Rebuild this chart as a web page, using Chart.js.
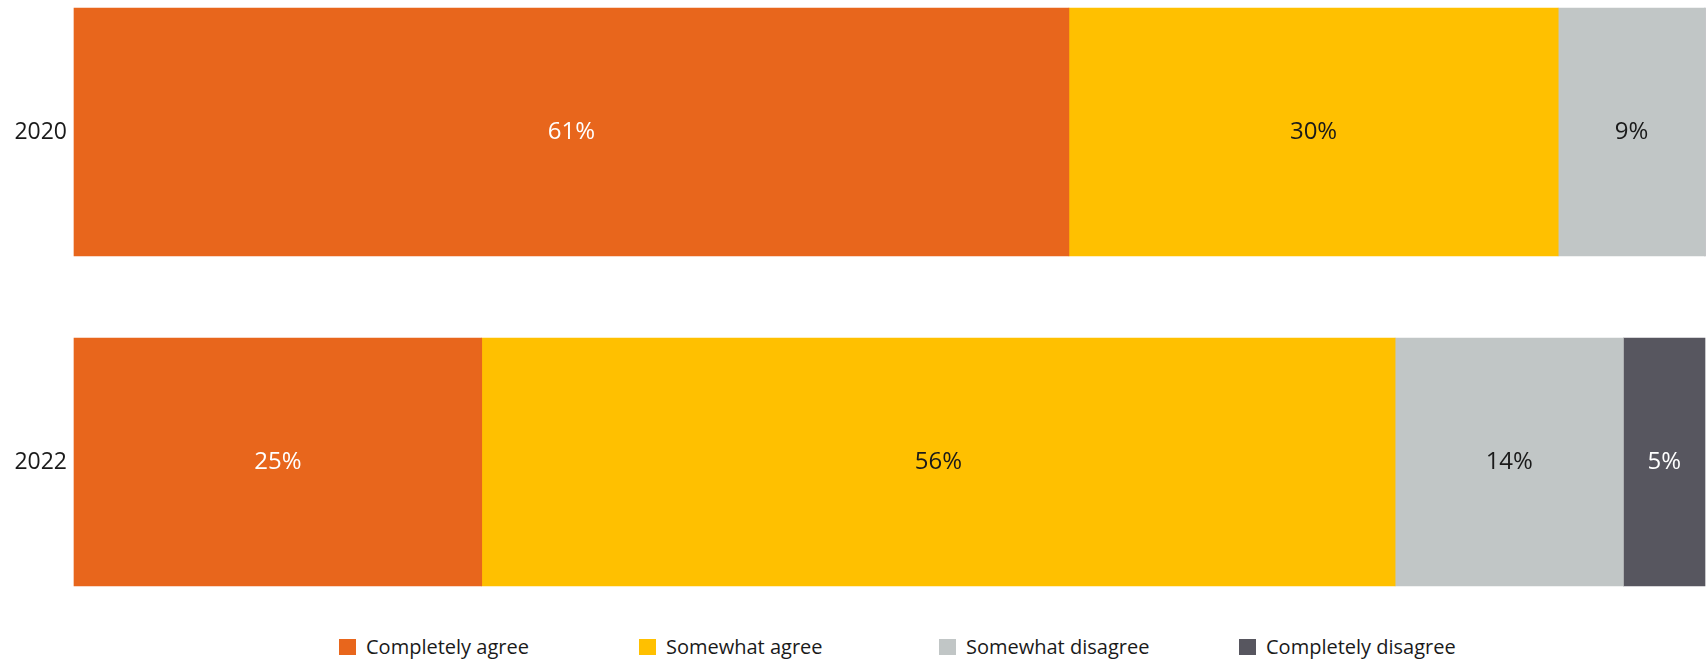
<!DOCTYPE html>
<html>
<head>
<meta charset="utf-8">
<script src="https://cdn.jsdelivr.net/npm/chart.js@4.4.1/dist/chart.umd.min.js"></script>
<style>
    body { margin: 0; background: #fff; font-family: 'Open Sans', sans-serif; }
    #wrap { position: relative; width: 1706px; height: 660px; }
    #chart-box { position: absolute; left: 0; top: 0; width: 1706px; height: 600px; }
    #legend { position: absolute; left: 339px; top: 635px; display: flex; }
    .legend-item { width: 300px; display: flex; align-items: center; font-size: 20px; color: #1a1a1a; line-height: 24px; }
    .legend-box { width: 17px; height: 16px; margin-right: 10px; }
</style>
</head>
<body>
<div id="wrap">
    <div id="chart-box"><canvas id="myChart"></canvas></div>
    <div id="legend"></div>
</div>
<script>
const years = ['2020', '2022'];
const answers = ['Completely agree', 'Somewhat agree', 'Somewhat disagree', 'Completely disagree'];
const completelyAgree = [61, 25];
const somewhatAgree = [30, 56];
const somewhatDisagree = [9, 14];
const completelyDisagree = [0, 5];

const barColors = ['#E8661C', '#FFC000', '#C1C6C6', '#57565F'];
const labelColors = ['#ffffff', '#1a1a1a', '#1a1a1a', '#ffffff'];

const seriesValues = [completelyAgree, somewhatAgree, somewhatDisagree, completelyDisagree];

// write the value in the middle of every segment
const valueLabels = {
    id: 'valueLabels',
    afterDatasetsDraw(chart) {
        const ctx = chart.ctx;
        ctx.save();
        ctx.font = "24px 'Open Sans'";
        ctx.textAlign = 'center';
        ctx.textBaseline = 'middle';
        chart.data.datasets.forEach((ds, d) => {
            chart.getDatasetMeta(d).data.forEach((bar, i) => {
                const v = ds.data[i];
                if (!v) return;
                ctx.fillStyle = labelColors[d];
                ctx.fillText(v + '%', (bar.x + bar.base) / 2, bar.y);
            });
        });
        ctx.restore();
    }
};

function buildLegend() {
    let html = '';
    for (let i = 0; i < answers.length; i++) {
        html += `<div class="legend-item"><span class="legend-box" style="background:${barColors[i]}"></span>${answers[i]}</div>`;
    }
    document.getElementById('legend').innerHTML = html;
}

const ctx = document.getElementById('myChart');

new Chart(ctx, {
    type: 'bar',
    data: {
        labels: years,
        datasets: answers.map((name, i) => ({
            label: name,
            data: seriesValues[i],
            backgroundColor: barColors[i],
            borderWidth: 0,
            barThickness: 248,
            clip: false
        }))
    },
    options: {
        indexAxis: 'y',
        responsive: true,
        maintainAspectRatio: false,
        animation: false,
        layout: {
            padding: { top: 132, bottom: 138, right: 1 }
        },
        scales: {
            x: {
                stacked: true,
                min: 0,
                max: 100,
                display: false
            },
            y: {
                stacked: true,
                offset: false,
                border: { display: false },
                grid: { display: false, drawTicks: false },
                afterFit(scale) {
                    scale.width = 74;
                },
                ticks: {
                    color: '#1a1a1a',
                    padding: 7,
                    font: { family: 'Open Sans', size: 23 }
                }
            }
        },
        plugins: {
            legend: { display: false },
            tooltip: { enabled: false }
        }
    },
    plugins: [valueLabels]
});

buildLegend();
</script>
</body>
</html>
